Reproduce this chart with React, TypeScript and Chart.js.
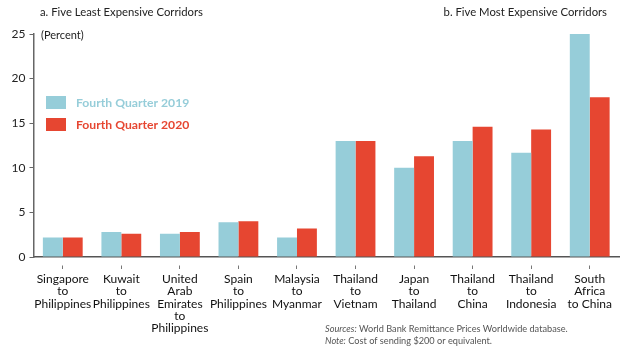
import React, { useEffect, useRef } from "react";
import { Chart, registerables } from "chart.js";
Chart.register(...registerables);

const categories: string[][] = [
  ["Singapore", "to", "Philippines"],
  ["Kuwait", "to", "Philippines"],
  ["United", "Arab", "Emirates", "to", "Philippines"],
  ["Spain", "to", "Philippines"],
  ["Malaysia", "to", "Myanmar"],
  ["Thailand", "to", "Vietnam"],
  ["Japan", "to", "Thailand"],
  ["Thailand", "to", "China"],
  ["Thailand", "to", "Indonesia"],
  ["South", "Africa", "to China"],
];
const q4_2019 = [2.2, 2.8, 2.6, 3.9, 2.2, 13.0, 10.0, 13.0, 11.7, 25.0];
const q4_2020 = [2.2, 2.6, 2.8, 4.0, 3.2, 13.0, 11.3, 14.6, 14.3, 17.9];
const yTicks = [0, 5, 10, 15, 20, 25];
const seriesNames = ["Fourth Quarter 2019", "Fourth Quarter 2020"];
const panelTitles = ["a. Five Least Expensive Corridors", "b. Five Most Expensive Corridors"];
const unitLabel = "(Percent)";
const noteLines: [string, string][] = [
  ["Sources:", " World Bank Remittance Prices Worldwide database."],
  ["Note:", " Cost of sending $200 or equivalent."],
];

const BLUE = "#96CDD9";
const RED = "#E64631";
const FONT = "Lato, 'Open Sans', sans-serif";

const overlayPlugin = {
  id: "overlay",
  afterDraw(chart: any) {
    const ctx = chart.ctx as CanvasRenderingContext2D;
    ctx.save();
    ctx.textBaseline = "middle";
    // panel titles
    ctx.fillStyle = "#222";
    ctx.font = `11.3px ${FONT}`;
    ctx.textAlign = "left";
    ctx.fillText(panelTitles[0], 40, 12);
    ctx.textAlign = "right";
    ctx.fillText(panelTitles[1], 607, 12);
    // unit label
    ctx.textAlign = "left";
    ctx.font = `11px ${FONT}`;
    ctx.fillText(unitLabel, 41, 35);
    // legend
    const colors = [BLUE, RED];
    const ys = [102.5, 124.5];
    ctx.font = `bold 12.2px ${FONT}`;
    seriesNames.forEach((name, i) => {
      ctx.fillStyle = colors[i];
      ctx.fillRect(46, ys[i] - 6.5, 20, 13);
      ctx.fillText(name, 76, ys[i] + 0.5);
    });
    // notes
    ctx.fillStyle = "#555";
    const ny = [329, 341];
    noteLines.forEach((ln, i) => {
      ctx.font = `italic 9.2px ${FONT}`;
      ctx.fillText(ln[0], 325, ny[i]);
      const w = ctx.measureText(ln[0]).width;
      ctx.font = `9.2px ${FONT}`;
      ctx.fillText(ln[1], 325 + w, ny[i]);
    });
    ctx.restore();
  },
};

export default function App() {
  const ref = useRef<HTMLCanvasElement | null>(null);
  useEffect(() => {
    document.body.style.margin = "0";
    const chart = new Chart(ref.current as HTMLCanvasElement, {
      type: "bar",
      data: {
        labels: categories as any,
        datasets: [
          { label: seriesNames[0], data: q4_2019, backgroundColor: BLUE, categoryPercentage: 0.68, barPercentage: 1.0 },
          { label: seriesNames[1], data: q4_2020, backgroundColor: RED, categoryPercentage: 0.68, barPercentage: 1.0 },
        ],
      },
      options: {
        animation: false,
        responsive: false,
        layout: { padding: { top: 34, right: 21, left: 0, bottom: 0 } },
        plugins: { legend: { display: false }, tooltip: { enabled: false } },
        scales: {
          x: {
            afterFit: (s: any) => { s.height = 97; },
            border: { color: "#555", width: 1.5, dash: [2000, 8], dashOffset: 2000 },
            grid: {
              offset: false,
              drawOnChartArea: false,
              drawTicks: true,
              tickLength: 12,
              tickColor: "#777",
              tickWidth: 1,
              tickBorderDash: [4, 100],
              tickBorderDashOffset: -8,
            },
            ticks: {
              color: "#111",
              font: { family: FONT, size: 12, lineHeight: 1.03 },
              padding: 4,
              maxRotation: 0,
              autoSkip: false,
            },
          },
          y: {
            min: 0,
            max: 25,
            afterFit: (s: any) => { s.width = 33.5; },
            afterBuildTicks: (s: any) => { s.ticks = yTicks.map((v) => ({ value: v })); },
            border: { color: "#666", width: 1.5 },
            grid: { drawOnChartArea: false, drawTicks: true, tickLength: 4, tickColor: "#666" },
            ticks: { color: "#222", font: { family: FONT, size: 12 }, padding: 4 },
          },
        },
      },
      plugins: [overlayPlugin],
    });
    return () => chart.destroy();
  }, []);
  return (
    <div style={{ position: "relative", width: 640, height: 354 }}>
      <canvas ref={ref} width={640} height={354} style={{ width: 640, height: 354, display: "block" }} />
    </div>
  );
}
